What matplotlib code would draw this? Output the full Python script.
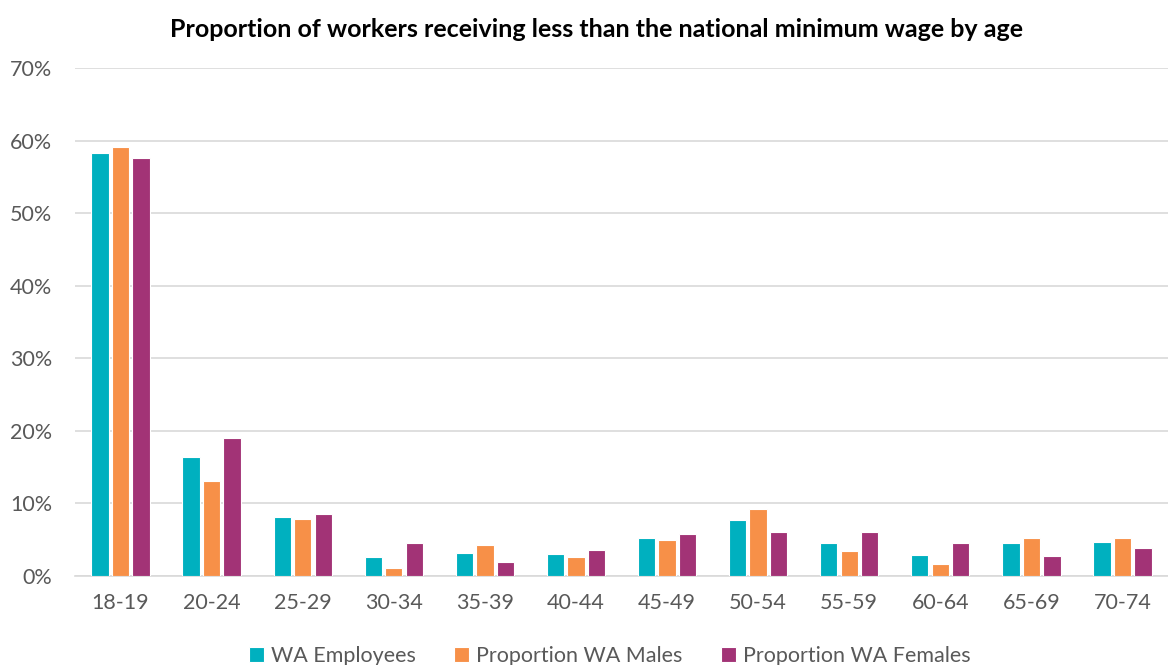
import matplotlib
matplotlib.use("Agg")
import matplotlib.pyplot as plt
import numpy as np
from matplotlib.ticker import FuncFormatter

categories = ["18-19", "20-24", "25-29", "30-34", "35-39", "40-44",
              "45-49", "50-54", "55-59", "60-64", "65-69", "70-74"]
wa_employees = [58.3, 16.4, 8.2, 2.6, 3.2, 3.1, 5.3, 7.7, 4.6, 2.9, 4.5, 4.7]
wa_males     = [59.1, 13.1, 7.9, 1.1, 4.3, 2.6, 4.9, 9.3, 3.4, 1.6, 5.2, 5.3]
wa_females   = [57.6, 19.0, 8.5, 4.6, 1.9, 3.6, 5.8, 6.1, 6.0, 4.6, 2.8, 3.9]
series_names = ["WA Employees", "Proportion WA Males", "Proportion WA Females"]
colors = ["#00B0BF", "#F79048", "#A23376"]

plt.rcParams['font.family'] = ['Lato', 'DejaVu Sans']

fig = plt.figure(figsize=(11.68, 6.65), dpi=100)
ax = fig.add_axes([0.0642, 0.1338, 0.9358, 0.7639])

x = np.arange(len(categories))
w = 0.19
offs = [-0.225, 0.0, 0.225]
for vals, off, c, name in zip([wa_employees, wa_males, wa_females], offs, colors, series_names):
    ax.bar(x + off, vals, width=w, color=c, edgecolor="white", linewidth=0.8, label=name, zorder=3)

ax.set_xlim(-0.5, len(categories) - 0.5)
ax.set_ylim(0, 70)
ax.set_yticks(np.arange(0, 71, 10))
ax.yaxis.set_major_formatter(FuncFormatter(lambda v, p: f"{int(v)}%"))
ax.grid(axis="y", color="#D9D9D9", linewidth=1.2, zorder=0)
ax.set_axisbelow(True)
for s in ["top", "right", "left"]:
    ax.spines[s].set_visible(False)
ax.spines["bottom"].set_color("#D9D9D9")
ax.spines["bottom"].set_linewidth(1.2)
ax.set_xticks(x)
ax.set_xticklabels(categories)
ax.tick_params(axis="both", length=0, labelsize=15.5, labelcolor="#595959")
ax.tick_params(axis="x", pad=12)
ax.tick_params(axis="y", pad=16.5)

fig.text(0.511, 0.955, "Proportion of workers receiving less than the national minimum wage by age",
         ha="center", va="center", fontsize=18, fontweight="bold", color="black")

leg = fig.legend(loc="center", bbox_to_anchor=(0.522, 0.013), ncol=3, frameon=False,
                 fontsize=15.5, handlelength=0.7, handleheight=0.7, handletextpad=0.3,
                 columnspacing=1.8, labelcolor="#595959")

fig.savefig("out.png", dpi=100)
